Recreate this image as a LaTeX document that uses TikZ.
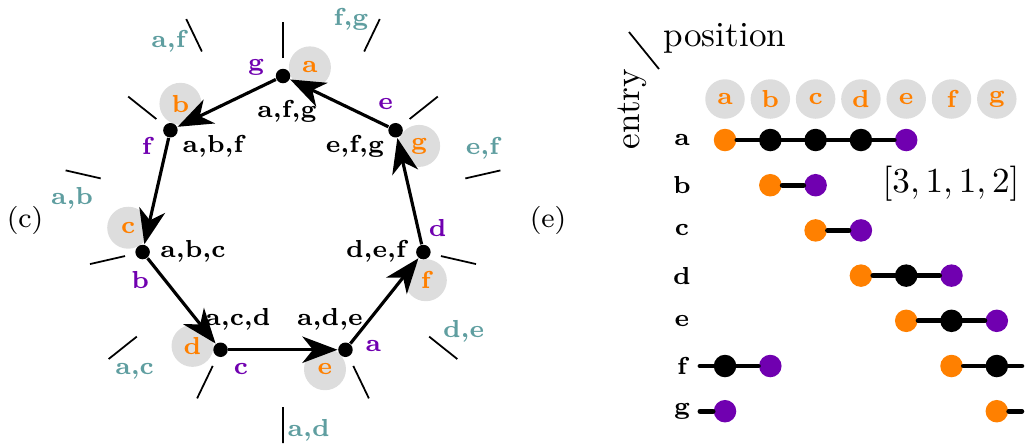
\documentclass[tikz,border=0pt]{standalone}
\usepackage{tikz}
\usetikzlibrary{arrows.meta,calc,positioning}
\definecolor{posorange}{HTML}{FF8000}
\definecolor{entrypurple}{HTML}{7000B0}
\definecolor{pairteal}{HTML}{5F9EA0}
\definecolor{slotgrey}{HTML}{DDDDDD}

\begin{document}
\begin{tikzpicture}[>={Stealth[length=10pt,width=7.5pt,inset=3pt]}, font=\scriptsize\bfseries]
  \tikzset{
    vert/.style={circle, fill=black, inner sep=0pt, minimum size=0.145cm},
    slot/.style={circle, fill=slotgrey, inner sep=0pt, minimum size=#1, text=posorange},
    slot/.default=0.42cm,
    entrylbl/.style={text=entrypurple},
    pairlbl/.style={text=pairteal},
    tick/.style={line width=0.5pt},
    hop/.style={->, line width=0.9pt},
    ent/.style={circle, fill=#1, inner sep=0pt, minimum size=0.225cm},
    bar/.style={line width=1.4pt, line cap=round},
    tag/.style={font=\footnotesize\mdseries}
  }
  \useasboundingbox (0,0) rectangle (10.25,-4.46);

  % cycle of positions
  \coordinate (ctr) at (2.83,-2.20);
  \foreach \k/\pos/\ent/\pair in {0/a/g/{a,f},1/b/f/{a,b},2/c/b/{a,c},3/d/c/{a,d},4/e/a/{d,e},5/f/d/{e,f},6/g/e/{f,g}} {
    \pgfmathsetmacro{\ang}{90+\k*360/7}
    \node[slot] (s\k) at ($(ctr)+(\ang-10:1.55)$) {\pos};
    \node[entrylbl] (p\k) at ($(ctr)+(\ang+10:1.55)$) {\ent};
    \node[pairlbl] (q\k) at ($(ctr)+(\ang+32.7:2.12)$) {\pair};
    \draw[tick] ($(ctr)+(\ang:1.62)$) -- ($(ctr)+(\ang:1.98)$);
    \draw[tick] ($(ctr)+(\ang+25.71:1.87)$) -- ($(ctr)+(\ang+25.71:2.23)$);
    \node[vert] (v\k) at ($(ctr)+(\ang:1.44)$) {};
  }
  \foreach \k/\tri/\tx/\ty in {0/{a,f,g}/2.87/-1.11,1/{a,b,f}/2.13/-1.46,2/{a,b,c}/1.93/-2.51,3/{a,c,d}/2.38/-3.19,4/{a,d,e}/3.30/-3.19,5/{d,e,f}/3.76/-2.51,6/{e,f,g}/3.55/-1.46}
    \node (t\k) at (\tx,\ty) {\tri};
  \foreach \k [evaluate=\k as \nxt using {int(mod(\k+1,7))}] in {0,...,6}
    \draw[hop] (v\k) -- (v\nxt);
  \node[tag] (lc) at (0.25,-2.20) {(c)};

  % entries against positions
  \node[tag] (le) at (5.48,-2.20) {(e)};
  \node[font=\normalsize\mdseries] (position) at (7.25,-0.38) {position};
  \node[font=\normalsize\mdseries, rotate=90] (entry) at (6.32,-1.09) {entry};
  \coordinate (sl1) at (6.29,-0.32);
  \coordinate (sl2) at (6.59,-0.69);
  \draw[tick] (sl1) -- (sl2);
  \foreach \c/\pos in {0/a,1/b,2/c,3/d,4/e,5/f,6/g}
    \node[slot=0.395cm] (h\c) at (7.25+0.453*\c,-0.99) {\pos};
  \foreach \e/\r in {a/0,b/1,c/2,d/3,e/4,f/5,g/6}
    \node (row\e) at (6.82,-1.40-0.452*\r) {\e};
  \foreach \e/\c/\col in {a/0/posorange,a/1/black,a/2/black,a/3/black,a/4/entrypurple,
      b/1/posorange,b/2/entrypurple,c/2/posorange,c/3/entrypurple,
      d/3/posorange,d/4/black,d/5/entrypurple,e/4/posorange,e/5/black,e/6/entrypurple,
      f/0/black,f/1/entrypurple,f/5/posorange,f/6/black,g/0/entrypurple,g/6/posorange}
    \node[ent=\col] (\e\c) at (h\c |- row\e) {};
  \coordinate (fl) at ($(rowf)+(0.18,0)$);
  \coordinate (gl) at ($(rowg)+(0.18,0)$);
  \coordinate (fr) at ($(h6 |- rowf)+(0.25,0)$);
  \coordinate (gr) at ($(h6 |- rowg)+(0.25,0)$);
  \draw[bar] (a0) -- (a4);
  \draw[bar] (b1) -- (b2);
  \draw[bar] (c2) -- (c3);
  \draw[bar] (d3) -- (d5);
  \draw[bar] (e4) -- (e6);
  \draw[bar] (fl) -- (f0) (f0) -- (f1) (f5) -- (f6) (f6) -- (fr);
  \draw[bar] (gl) -- (g0) (g6) -- (gr);
  \node[font=\normalsize\mdseries] (seq) at (9.51,-1.84) {$[3,1,1,2]$};
\end{tikzpicture}
\end{document}
